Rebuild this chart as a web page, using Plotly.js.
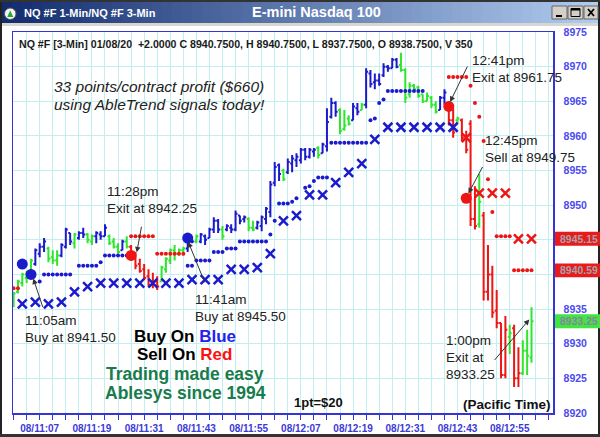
<!DOCTYPE html>
<html><head><meta charset="utf-8">
<script src="https://cdn.plot.ly/plotly-3.0.1.min.js"></script>
<style>html,body{margin:0;padding:0;background:#fff;overflow:hidden;} #chart{width:600px;height:437px;}</style>
</head><body><div id="chart"></div>
<script>
// ---------------- DATA ----------------
// minute index = minutes after 11:00 (1-min bars, 01/08/20)
const barMinute = [1,2,3,4,5,6,7,8,9,10,11,12,13,14,15,16,17,18,19,20,21,22,23,24,25,26,27,28,29,30,
 31,32,33,34,35,36,37,38,39,40,41,42,43,44,45,46,47,48,49,50,51,52,53,54,55,56,57,58,59,60,
 61,62,63,64,65,66,67,68,69,70,71,72,73,74,75,76,77,78,79,80,81,82,83,84,85,86,87,88,89,90,
 91,92,93,94,95,96,97,98,99,100,101,102,103,104,105,106,107,108,109,110,111,112,113,114,115,116,117,118,119,120];
const barColor = ['g','g','g','g','g','b','b','b','g','g','g','b','b','b','g','b','b','g','g','b',
 'b','b','g','g','g','b','g','r','r','r','r','r','r','r','g','g','g','g','g','g',
 'b','b','g','b','b','b','b','b','g','b','b','b','b','b','g','g','b','b','b','b',
 'b','b','g','b','b','b','b','b','b','b','g','b','b','b','b','g','g','g','b','b',
 'g','b','b','b','b','b','b','b','b','g','g','g','g','g','g','g','g','g','b','b',
 'r','r','g','r','r','r','r','g','r','r','r','r','r','r','g','r','r','g','g','g'];
const barOpen = [8935.5,8937.5,8938.75,8939.5,8940.0,8941.5,8943.0,8944.0,8943.75,8942.5,
 8942.0,8942.75,8944.0,8946.0,8944.5,8945.25,8946.0,8945.75,8944.75,8945.5,
 8945.75,8945.5,8945.5,8944.75,8944.0,8943.5,8944.75,8944.0,8942.75,8941.5,
 8940.75,8939.75,8938.5,8939.0,8939.0,8940.75,8942.0,8943.5,8943.0,8943.5,
 8943.75,8945.25,8944.75,8944.75,8945.5,8945.25,8946.5,8947.75,8946.5,8946.5,
 8946.75,8946.5,8948.5,8948.0,8948.0,8946.75,8946.75,8947.0,8948.0,8949.0,
 8953.25,8955.75,8955.0,8954.75,8956.0,8956.5,8956.5,8958.0,8957.0,8957.75,
 8958.25,8957.5,8958.5,8962.75,8964.75,8963.75,8961.0,8962.5,8962.25,8964.0,
 8963.75,8964.5,8969.0,8967.75,8968.0,8968.75,8970.0,8969.75,8971.0,8970.25,
 8969.5,8966.0,8967.25,8967.0,8966.0,8965.0,8965.5,8964.5,8963.75,8965.5,
 8964.75,8962.25,8962.25,8962.25,8960.0,8961.75,8948.0,8947.25,8948.5,8937.5,
 8940.0,8934.75,8933.0,8925.5,8931.0,8932.25,8925.0,8925.75,8929.0,8928.0];
const barHigh = [8937.5,8939.25,8940.25,8940.5,8942.25,8943.75,8944.5,8945.25,8944.0,8943.5,
 8943.5,8944.5,8946.75,8946.0,8946.0,8946.25,8946.75,8946.0,8945.75,8946.25,
 8946.25,8947.25,8945.75,8945.25,8944.5,8945.0,8945.5,8944.25,8943.25,8942.25,
 8941.5,8940.75,8940.25,8939.75,8941.25,8942.5,8943.75,8944.25,8943.75,8944.0,
 8946.0,8945.5,8945.75,8946.0,8945.75,8946.75,8948.25,8948.0,8947.0,8947.25,
 8947.25,8949.25,8948.5,8948.5,8948.25,8947.75,8947.75,8948.5,8949.75,8953.5,
 8956.25,8956.0,8955.25,8956.75,8957.25,8957.5,8958.25,8958.25,8958.25,8958.25,
 8958.5,8959.0,8964.0,8965.5,8965.0,8964.0,8963.75,8963.0,8964.75,8964.75,
 8964.75,8969.75,8969.5,8969.0,8969.0,8970.5,8970.25,8971.25,8971.25,8972.0,
 8969.75,8967.75,8967.5,8967.25,8966.0,8966.25,8965.75,8965.0,8965.75,8966.75,
 8965.0,8964.0,8962.75,8962.5,8960.75,8962.25,8952.75,8954.5,8949.0,8944.25,
 8941.25,8937.75,8933.0,8934.0,8932.75,8932.75,8929.5,8930.5,8932.0,8935.25];
const barLow = [8935.25,8937.25,8938.25,8938.75,8939.75,8941.25,8942.5,8943.25,8941.75,8941.5,
 8941.25,8942.5,8943.75,8944.25,8943.75,8945.0,8945.25,8944.5,8944.25,8944.5,
 8945.0,8945.5,8944.25,8943.75,8943.0,8943.5,8943.75,8942.0,8940.75,8940.25,
 8939.25,8938.25,8938.0,8937.75,8939.0,8940.25,8941.5,8942.0,8942.75,8942.75,
 8943.25,8944.5,8944.5,8944.5,8944.25,8945.25,8946.0,8946.0,8945.0,8946.25,
 8946.0,8946.25,8947.25,8947.5,8946.25,8946.25,8946.5,8946.25,8947.25,8948.25,
 8952.75,8953.5,8953.5,8954.5,8954.75,8955.5,8956.0,8956.5,8956.75,8957.0,
 8956.75,8957.5,8957.75,8962.5,8962.75,8960.25,8960.75,8961.5,8962.25,8963.0,
 8963.75,8964.0,8967.0,8966.75,8967.25,8968.5,8969.25,8969.75,8969.75,8969.25,
 8964.75,8965.5,8966.5,8965.5,8964.75,8965.0,8964.0,8963.25,8963.75,8964.5,
 8961.5,8959.75,8961.75,8959.25,8957.5,8947.0,8946.5,8946.75,8936.25,8936.25,
 8933.75,8932.25,8925.0,8925.0,8928.5,8923.75,8923.75,8925.5,8925.5,8927.25];
const barClose = [8937.25,8939.0,8940.0,8940.25,8942.0,8943.5,8944.0,8944.75,8942.25,8942.0,
 8942.75,8944.25,8946.5,8944.75,8945.75,8946.0,8945.75,8945.0,8945.5,8946.0,
 8945.5,8946.75,8944.5,8944.0,8943.25,8944.75,8944.0,8942.5,8941.25,8940.5,
 8939.5,8938.5,8939.0,8938.25,8941.0,8942.25,8943.5,8943.0,8943.5,8943.75,
 8945.5,8944.75,8945.5,8945.75,8945.0,8946.5,8947.75,8946.5,8945.5,8947.0,
 8946.5,8948.75,8947.75,8948.25,8946.75,8946.5,8947.5,8948.25,8949.5,8953.0,
 8955.5,8954.5,8953.75,8956.25,8956.75,8957.0,8958.0,8957.0,8958.0,8958.0,
 8957.25,8958.75,8962.0,8964.75,8963.5,8960.75,8961.5,8961.75,8964.25,8963.5,
 8964.5,8969.25,8967.5,8968.0,8967.5,8970.0,8969.75,8971.0,8970.0,8969.5,
 8965.5,8967.25,8966.75,8965.75,8965.0,8965.75,8964.5,8963.5,8965.5,8966.25,
 8962.25,8960.5,8962.5,8959.75,8958.0,8948.0,8947.0,8950.5,8937.5,8940.0,
 8934.5,8933.0,8925.5,8932.0,8931.5,8925.0,8925.75,8929.0,8928.25,8933.25];

// AbleTrend stop dots (1-min)
const blueDotMinute = [7,8,9,10,11,12,13,14,16,17,18,19,20,21,22,23,24,25,26,27,
 41,42,43,44,45,46,47,48,49,50,51,52,53,54,55,56,57,58,59,60,61,62,63,64,65,66,68,69,70,71,72,73,
 74,75,76,77,78,79,80,81,82,83,84,85,86,87,88,89,90,91,92,93,94,95];
const blueDotPrice = [8939.0,8940.0,8940.0,8940.0,8940.0,8940.0,8940.0,8940.0,8941.25,8941.25,8941.25,8941.25,8941.25,8941.75,8942.75,8942.75,8942.75,8942.75,8942.75,8942.75,
 8941.25,8941.25,8942.0,8942.0,8942.0,8942.0,8943.25,8943.25,8943.25,8943.75,8943.75,8943.75,8944.75,8944.75,8944.75,8944.75,8944.75,8944.75,8944.75,8945.75,8947.75,8950.25,8950.25,8950.25,8950.5,8951.0,8952.5,8952.75,8953.5,8954.0,8954.0,8954.0,
 8959.0,8959.0,8959.0,8959.0,8959.0,8959.0,8959.0,8959.0,8959.0,8962.25,8962.5,8964.75,8965.25,8966.5,8966.5,8966.5,8966.5,8966.5,8966.5,8966.5,8966.5,8966.5];
const redDotMinute = [1,2,28,29,30,31,32,33,34,35,36,37,38,39,40,
 101,102,103,104,105,106,107,108,109,110,111,112,113,114,115,116,117,118,119,120];
const redDotPrice = [8938.0,8938.0,8945.5,8945.5,8945.5,8945.5,8945.5,8945.5,8943.0,8943.0,8943.0,8943.0,8943.0,8943.0,8943.0,
 8968.5,8968.5,8968.5,8968.5,8968.5,8967.25,8964.75,8962.75,8959.25,8953.75,8949.0,8945.5,8945.5,8945.5,8945.5,8940.59,8940.59,8940.59,8940.59,8940.59];
// AbleTrend 3-min X marks
const blueXMinute = [3,6,9,12,15,18,21,24,27,30,33,36,39,42,45,48,51,54,57,60,63,66,69,72,75,78,81,84,87,90,93,96,99,102];
const blueXPrice = [8935.75,8936.0,8935.75,8936.0,8937.5,8938.25,8938.75,8938.75,8938.75,8938.75,8938.75,8938.75,8938.75,8939.25,8939.25,8939.25,
 8940.75,8940.75,8941.0,8943.0,8947.75,8948.5,8951.5,8951.5,8953.25,8954.75,8956.0,8959.5,8961.25,8961.25,8961.25,8961.25,8961.25,8961.25];
const redXMinute = [105,108,111,114,117,120];
const redXPrice = [8959.75,8951.75,8951.75,8951.75,8945.15,8945.15];
// Signals (big dots)
const signalMinute = [3,5,28,41,101,105];
const signalPrice = [8941.5,8940.0,8942.75,8945.25,8964.25,8951.0];
const signalColor = ['b','b','r','b','r','r'];
// Axis ticks
const tickMinute = [1,4,7,10,13,16,19,22,25,28,31,34,37,40,43,46,49,52,55,58,61,64,67,70,73,76,79,82,85,88,91,94,97,100,103,106,109,112,115,118,121,124];
const labelMinute = [7,19,31,43,55,67,79,91,103,115];
const timeLabels = ["08/11:07","08/11:19","08/11:31","08/11:43","08/11:55","08/12:07","08/12:19","08/12:31","08/12:43","08/12:55"];
const priceTicks = [8920,8925,8930,8935,8940,8945,8950,8955,8960,8965,8970,8975];
const priceLabels = ["8920","8925","8930","8935","","","8950","8955","8960","8965","8970","8975"];
// Last-value flags
const flagValue = [8945.15, 8940.59, 8933.25];
const flagLabel = ["8945.15","8940.59","8933.25"];
const flagColor = ['r','r','g'];

// ---------------- STYLE ----------------
const COL = {b:'#1b1bcc', g:'#2ee62e', r:'#ee1515'};
const FLAGCOL = {r:'#e81a1a', g:'#3ee63e'};
const FONT = 'Liberation Sans, Arial, sans-serif';
const W=600, H=437, ML=13, MR=47, MT=32, MB=24;
const PW=W-ML-MR, PH=H-MT-MB;
const fx = px => (px-ML)/PW;
const fy = py => (H-MB-py)/PH;
const AXC = '#3535d6';

const traces = [];
['b','g','r'].forEach(c => {
  const idx = barColor.map((v,i)=>v===c?i:-1).filter(i=>i>=0);
  traces.push({
    type:'ohlc',
    x: idx.map(i=>barMinute[i]), open: idx.map(i=>barOpen[i]), high: idx.map(i=>barHigh[i]),
    low: idx.map(i=>barLow[i]), close: idx.map(i=>barClose[i]),
    increasing:{line:{color:COL[c], width:2}}, decreasing:{line:{color:COL[c], width:2}},
    tickwidth:0.45, hoverinfo:'skip', showlegend:false
  });
});
traces.push({type:'scatter', mode:'markers', x:blueDotMinute, y:blueDotPrice,
  marker:{color:COL.b, size:4}, hoverinfo:'skip', showlegend:false});
traces.push({type:'scatter', mode:'markers', x:redDotMinute, y:redDotPrice,
  marker:{color:COL.r, size:4}, hoverinfo:'skip', showlegend:false});
traces.push({type:'scatter', mode:'markers', x:blueXMinute, y:blueXPrice,
  marker:{symbol:'x-thin', size:9, line:{width:2.5, color:COL.b}}, hoverinfo:'skip', showlegend:false});
traces.push({type:'scatter', mode:'markers', x:redXMinute, y:redXPrice,
  marker:{symbol:'x-thin', size:9, line:{width:2.5, color:COL.r}}, hoverinfo:'skip', showlegend:false});
traces.push({type:'scatter', mode:'markers', x:signalMinute, y:signalPrice,
  marker:{color:signalColor.map(c=>COL[c]), size:11}, hoverinfo:'skip', showlegend:false});

// ---------------- DECORATION ----------------
const shapes = [];
const annotations = [];
function rectPx(x0,y0,x1,y1,fill,line,lw){
  shapes.push({type:'rect', xref:'paper', yref:'paper', x0:fx(x0), x1:fx(x1), y0:fy(y1), y1:fy(y0),
    fillcolor:fill, line:{color:line||fill, width:lw===undefined?0:lw}, layer:'above'});
}
function linePx(x0,y0,x1,y1,color,w){
  shapes.push({type:'line', xref:'paper', yref:'paper', x0:fx(x0), x1:fx(x1), y0:fy(y0), y1:fy(y1),
    line:{color:color, width:w}, layer:'above'});
}
function txt(text, px, py, size, color, opts){
  opts = opts||{};
  annotations.push(Object.assign({text:text, xref:'paper', yref:'paper', x:fx(px), y:fy(py),
    xanchor:'left', yanchor:'middle', showarrow:false,
    font:{family:FONT, size:size, color:color, weight:opts.bold?'bold':'normal', style:opts.italic?'italic':'normal'}}, opts.extra||{}));
}
function arrow(m, p, ax, ay){
  annotations.push({text:'', x:m, y:p, xref:'x', yref:'y', ax:ax, ay:ay, showarrow:true,
    arrowhead:2, arrowsize:1.1, arrowwidth:1, arrowcolor:'#333', standoff:0, startstandoff:0});
}

// title bar gradient
const c0=[18,44,110], c1=[176,204,240];
for(let i=0;i<60;i++){
  const t=i/59; const c=c0.map((v,k)=>Math.round(v+(c1[k]-v)*t));
  rectPx(2+i*10, 2, 2+i*10+10.6, 23, 'rgb('+c.join(',')+')');
}
rectPx(0,23,600,26,'#d8d6d0');
// outer frame
rectPx(0,0,2,437,'#222'); rectPx(598,0,600,437,'#222'); rectPx(0,0,600,2,'#333'); rectPx(0,434,600,437,'#333');
// window buttons
[[552,567],[568,583],[584,598]].forEach(b=>{ rectPx(b[0],6,b[1],19,'#d4d0c8','#666',1); });
linePx(556,16,562,16,'#000',2);
rectPx(571,8.5,580,16.5,'rgba(0,0,0,0)','#000',1); linePx(571,9.5,580,9.5,'#000',2);
linePx(588,9,594,16,'#000',1.8); linePx(594,9,588,16,'#000',1.8);
// icon
shapes.push({type:'circle', xref:'paper', yref:'paper', x0:fx(4.5), x1:fx(16), y0:fy(19.5), y1:fy(8),
  fillcolor:'#f4f4f4', line:{color:'#555', width:1}, layer:'above'});
shapes.push({type:'path', xref:'paper', yref:'paper', layer:'above', fillcolor:'#1faa3a', line:{width:0},
  path:'M '+fx(10.2)+' '+fy(10.5)+' L '+fx(13.3)+' '+fy(17)+' L '+fx(7.2)+' '+fy(17)+' Z'});
txt('NQ #F 1-Min/NQ #F 3-Min', 21.5, 13.5, 11, '#ffffff', {bold:true});
txt('E-mini Nasdaq 100', 316, 11.5, 14.5, '#ffffff', {bold:true, extra:{xanchor:'center'}});

// header info line
txt('NQ #F [3-Min] 01/08/20&nbsp;&nbsp;+2.0000 C 8940.7500, H 8940.7500, L 8937.7500, O 8938.7500, V 350', 16.5, 43.5, 10.6, '#1a1a1a', {bold:true});

// flags on the right
flagValue.forEach((v,i)=>{
  shapes.push({type:'rect', xref:'paper', yref:'y', x0:fx(555), x1:fx(601), y0:v-1.0, y1:v+1.0,
    fillcolor:FLAGCOL[flagColor[i]], line:{width:0}, layer:'above'});
  annotations.push({text:flagLabel[i], xref:'paper', yref:'y', x:fx(558), y:v, xanchor:'left', yanchor:'middle',
    showarrow:false, font:{family:FONT, size:10.5, color: flagColor[i]==='r'?'#a8a0a8':'#8c80a8', weight:'bold'}});
});

// texts
txt('33 points/contract profit ($660)', 51.5, 86.7, 15.5, '#222', {italic:true});
txt('using AbleTrend signals today!', 51.5, 104.3, 15.5, '#222', {italic:true});

txt('11:05am', 22.5, 320.5, 13.5, '#222');
txt('Buy at 8941.50', 22.5, 337.5, 13.5, '#222');
txt('11:28pm', 104.5, 191.5, 13.5, '#222');
txt('Exit at 8942.25', 104.5, 208.5, 13.5, '#222');
txt('11:41am', 192.5, 299, 13.5, '#222');
txt('Buy at 8945.50', 192.5, 316, 13.5, '#222');
txt('12:41pm', 469.5, 60.5, 13.5, '#222');
txt('Exit at 8961.75', 469.5, 77.5, 13.5, '#222');
txt('12:45pm', 483, 140.5, 13.5, '#222');
txt('Sell at 8949.75', 483, 157.5, 13.5, '#222');
txt('1:00pm', 443.5, 340.5, 13.5, '#222');
txt('Exit at', 443.5, 357, 13.5, '#222');
txt('8933.25', 443.5, 374, 13.5, '#222');

txt('Buy On <span style="color:#2222ee">Blue</span>', 185, 336, 17, '#000', {bold:true, extra:{xanchor:'center'}});
txt('Sell On <span style="color:#ff1111">Red</span>', 184, 354.5, 17, '#000', {bold:true, extra:{xanchor:'center'}});
txt('Trading made easy', 184.5, 373.5, 17.5, '#187c4c', {bold:true, extra:{xanchor:'center'}});
txt('Ablesys since 1994', 185.5, 392.5, 17.5, '#187c4c', {bold:true, extra:{xanchor:'center'}});
txt('1pt=$20', 318, 402, 13, '#111', {bold:true, extra:{xanchor:'center'}});
txt('(Pacific Time)', 507, 404.5, 13.5, '#111', {bold:true, extra:{xanchor:'center'}});

// arrows (head at data point, tail offset in px)
arrow(5.53, 8939.4, 10, 30);
arrow(29.3, 8943.2, 5, -27);
arrow(41.14, 8944.7, 17, 42);
arrow(101.3, 8964.9, 18, -37);
arrow(105.5, 8951.7, 15, -28);
arrow(119.5, 8933.5, -36, 42);

const ticktext = tickMinute.map(m => { const k = labelMinute.indexOf(m); return k>=0 ? timeLabels[k] : ''; });

const layout = {
  width:W, height:H, margin:{l:ML, r:MR, t:MT, b:MB, pad:0},
  paper_bgcolor:'#ffffff', plot_bgcolor:'#ffffff', showlegend:false,
  xaxis:{range:[0.864,124.94], tickmode:'array', tickvals:tickMinute, ticktext:ticktext,
    ticks:'outside', ticklen:5, tickwidth:1, tickcolor:AXC, showline:true, linecolor:AXC, linewidth:1.5, mirror:true,
    showgrid:true, gridcolor:'#c2f0f0', gridwidth:1, zeroline:false, rangeslider:{visible:false},
    tickfont:{family:FONT, size:10, color:'#3a3ad8', weight:'bold'}, fixedrange:true},
  yaxis:{side:'right', range:[8920,8975], tickmode:'array', tickvals:priceTicks, ticktext:priceLabels,
    ticks:'', showline:true, linecolor:AXC, linewidth:1.5, mirror:true,
    showgrid:true, gridcolor:'#c2f0f0', gridwidth:1, zeroline:false, ticklabelstandoff:7,
    tickfont:{family:FONT, size:10.5, color:'#4b4bef', weight:'bold'}, fixedrange:true},
  shapes:shapes, annotations:annotations
};
Plotly.newPlot('chart', traces, layout, {staticPlot:true, displayModeBar:false});
</script></body></html>
